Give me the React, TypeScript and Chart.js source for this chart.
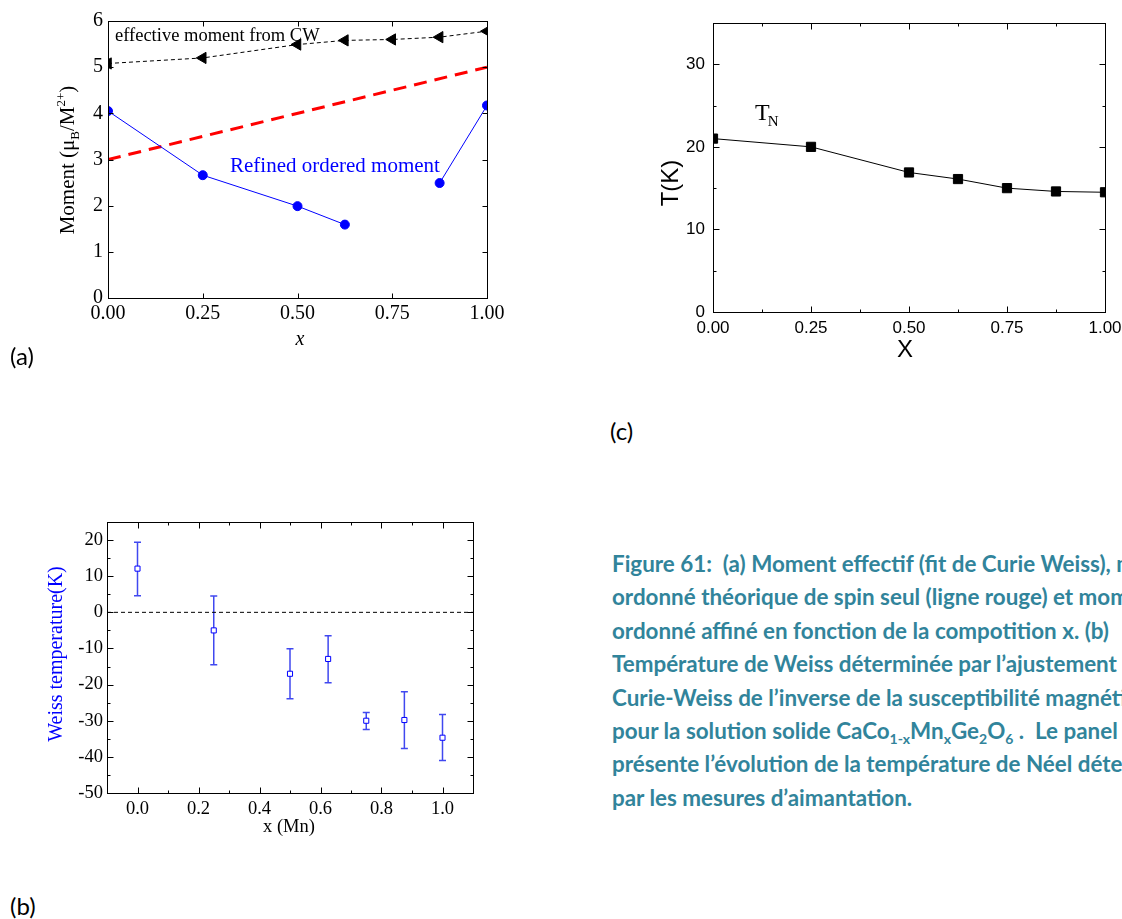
import React, { useEffect, useRef } from "react";
import { Chart, registerables } from "chart.js";
Chart.register(...registerables);

// ---------- Panel (a): moments vs x ----------
const momentX = [0, 0.25, 0.5, 0.625, 0.75, 0.875, 1.0];
const effectiveMoment = [5.08, 5.2, 5.49, 5.58, 5.6, 5.65, 5.78];
const orderedMoment = [4.05, 2.66, 1.99, 1.59, null, 2.49, 4.17];
const spinOnlyX = [0, 1];
const spinOnlyMoment = [3.0, 5.0];
const aXTicks = [0, 0.25, 0.5, 0.75, 1.0];
const aYTicks = [0, 1, 2, 3, 4, 5, 6];

// ---------- Panel (b): Weiss temperature ----------
const weissX = [0, 0.25, 0.5, 0.625, 0.75, 0.875, 1.0];
const weissT = [12.1, -5.0, -17.0, -12.9, -30.0, -29.8, -34.7];
const weissErrLow = [4.6, -14.5, -23.9, -19.5, -32.4, -37.7, -41.0];
const weissErrHigh = [19.4, 4.5, -10.1, -6.5, -27.7, -22.0, -28.3];
const bXTicks = [0, 0.2, 0.4, 0.6, 0.8, 1.0];
const bXMinor = [-0.1, 0.1, 0.3, 0.5, 0.7, 0.9, 1.1];
const bYTicks = [-50, -40, -30, -20, -10, 0, 10, 20];
const bYMinor = [-45, -35, -25, -15, -5, 5, 15, 25];

// ---------- Panel (c): Néel temperature ----------
const neelX = [0, 0.25, 0.5, 0.625, 0.75, 0.875, 1.0];
const neelT = [21.0, 20.0, 16.9, 16.1, 15.0, 14.6, 14.5];
const cXTicks = [0, 0.25, 0.5, 0.75, 1.0];
const cXMinor = [0.125, 0.375, 0.625, 0.875];
const cYTicks = [0, 10, 20, 30];
const cYMinor = [5, 15, 25];

const captionLines = [
  "Figure 61:\u00a0\u00a0(a) Moment effectif (fit de Curie Weiss), moment",
  "ordonné théorique de spin seul (ligne rouge) et moment",
  "ordonné affiné en fonction de la compotition x. (b)",
  "Température de Weiss déterminée par l’ajustement de",
  "Curie-Weiss de l’inverse de la susceptibilité magnétique",
  "SOLID",
  "présente l’évolution de la température de Néel déterminée",
  "par les mesures d’aimantation.",
];

const SERIF = "'Liberation Serif', 'Times New Roman', serif";
const SANS = "'Liberation Sans', Arial, sans-serif";

type Part = { t: string; size: number; dy?: number; dx?: number; italic?: boolean };
type LabelItem = { parts: Part[]; x: number; y: number; rotate?: number; align?: "left" | "center"; family: string; color: string };

function drawRich(ctx: CanvasRenderingContext2D, it: LabelItem) {
  ctx.save();
  ctx.translate(it.x, it.y);
  if (it.rotate) ctx.rotate(it.rotate);
  const fontOf = (p: Part) => `${p.italic ? "italic " : ""}${p.size}px ${it.family}`;
  let total = 0;
  for (const p of it.parts) {
    ctx.font = fontOf(p);
    total += ctx.measureText(p.t).width + (p.dx || 0);
  }
  let cx = it.align === "center" ? -total / 2 : 0;
  ctx.textAlign = "left";
  ctx.textBaseline = "alphabetic";
  ctx.fillStyle = it.color;
  for (const p of it.parts) {
    ctx.font = fontOf(p);
    cx += p.dx || 0;
    ctx.fillText(p.t, cx, p.dy || 0);
    cx += ctx.measureText(p.t).width;
  }
  ctx.restore();
}

const labelPlugin = {
  id: "labels",
  afterDraw(chart: any, _a: any, opts: any) {
    const ctx = chart.ctx as CanvasRenderingContext2D;
    for (const it of (opts.items || []) as LabelItem[]) drawRich(ctx, it);
  },
};

const framePlugin = {
  id: "frame",
  afterDatasetsDraw(chart: any, _a: any, opts: any) {
    const ctx = chart.ctx as CanvasRenderingContext2D;
    const a = chart.chartArea;
    const xs = chart.scales.x;
    const ys = chart.scales.y;
    ctx.save();
    ctx.strokeStyle = opts.color || "#000";
    ctx.lineWidth = opts.lineWidth || 1;
    const L = Math.round(a.left) + 0.5, R = Math.round(a.right) + 0.5;
    const T = Math.round(a.top) + 0.5, B = Math.round(a.bottom) + 0.5;
    ctx.strokeRect(L, T, R - L, B - T);
    const xt = (vals: number[], len: number) => {
      for (const v of vals) {
        const px = Math.round(xs.getPixelForValue(v)) + 0.5;
        ctx.beginPath();
        ctx.moveTo(px, B); ctx.lineTo(px, B - len);
        ctx.moveTo(px, T); ctx.lineTo(px, T + len);
        ctx.stroke();
      }
    };
    const yt = (vals: number[], len: number) => {
      for (const v of vals) {
        const py = Math.round(ys.getPixelForValue(v)) + 0.5;
        ctx.beginPath();
        ctx.moveTo(L, py); ctx.lineTo(L + len, py);
        ctx.moveTo(R, py); ctx.lineTo(R - len, py);
        ctx.stroke();
      }
    };
    xt(opts.xMajor || [], opts.majorLen || 5);
    yt(opts.yMajor || [], opts.majorLen || 5);
    xt(opts.xMinor || [], opts.minorLen || 3);
    yt(opts.yMinor || [], opts.minorLen || 3);
    ctx.restore();
  },
};

const errorBarPlugin = {
  id: "errbars",
  beforeDatasetsDraw(chart: any, _a: any, opts: any) {
    if (!opts.xs) return;
    const ctx = chart.ctx as CanvasRenderingContext2D;
    const xs = chart.scales.x, ys = chart.scales.y;
    ctx.save();
    ctx.strokeStyle = opts.color;
    ctx.lineWidth = opts.lineWidth;
    opts.xs.forEach((x: number, i: number) => {
      const px = xs.getPixelForValue(x);
      const lo = ys.getPixelForValue(opts.low[i]);
      const hi = ys.getPixelForValue(opts.high[i]);
      ctx.beginPath();
      ctx.moveTo(px, lo); ctx.lineTo(px, hi);
      ctx.moveTo(px - opts.cap, lo); ctx.lineTo(px + opts.cap, lo);
      ctx.moveTo(px - opts.cap, hi); ctx.lineTo(px + opts.cap, hi);
      ctx.stroke();
    });
    ctx.restore();
  },
};

type Area = { left: number; top: number; right: number; bottom: number };

function axes(o: {
  w: number; h: number; area: Area;
  xMin: number; xMax: number; yMin: number; yMax: number;
  xTicks: number[]; yTicks: number[];
  xFmt: (v: number) => string; yFmt: (v: number) => string;
  font: any; xPad: number; yPad: number;
}) {
  return {
    x: {
      type: "linear", min: o.xMin, max: o.xMax,
      grid: { display: false, drawTicks: false },
      border: { display: false },
      afterBuildTicks: (s: any) => { s.ticks = o.xTicks.map((v) => ({ value: v })); },
      afterFit: (s: any) => { s.height = o.h - o.area.bottom; s.paddingLeft = 0; s.paddingRight = 0; },
      ticks: { font: o.font, color: "#000", padding: o.xPad, maxRotation: 0, autoSkip: false, callback: (v: any) => o.xFmt(Number(v)) },
    },
    y: {
      type: "linear", min: o.yMin, max: o.yMax,
      grid: { display: false, drawTicks: false },
      border: { display: false },
      afterBuildTicks: (s: any) => { s.ticks = o.yTicks.map((v) => ({ value: v })); },
      afterFit: (s: any) => { s.width = o.area.left; s.paddingTop = 0; s.paddingBottom = 0; },
      ticks: { font: o.font, color: "#000", padding: o.yPad, autoSkip: false, callback: (v: any) => o.yFmt(Number(v)) },
    },
  };
}

function baseOpts(w: number, area: Area, scales: any, plugins: any) {
  return {
    responsive: false,
    animation: false,
    events: [],
    layout: { padding: { left: 0, top: area.top, right: w - area.right, bottom: 0 } },
    scales,
    plugins: { legend: { display: false }, tooltip: { enabled: false }, ...plugins },
  };
}

const pts = (xs: number[], ys: (number | null)[]) => xs.map((x, i) => ({ x, y: ys[i] }));

function configA(w: number, h: number) {
  const area = { left: 108, top: 21, right: 487, bottom: 298 };
  return {
    type: "line",
    data: {
      datasets: [
        { data: pts(momentX, effectiveMoment), borderColor: "#000", borderWidth: 1, borderDash: [4, 3], pointStyle: "triangle", pointRotation: -90, pointRadius: 6.5, pointBackgroundColor: "#000", pointBorderColor: "#000", pointBorderWidth: 1, clip: 0 },
        { data: pts(momentX, orderedMoment), borderColor: "#0000ff", borderWidth: 1, pointRadius: 4.5, pointBackgroundColor: "#0000ff", pointBorderColor: "#0000ff", spanGaps: false, clip: 0 },
        { data: pts(spinOnlyX, spinOnlyMoment), borderColor: "#ff0000", borderWidth: 3, borderDash: [13, 8], pointRadius: 0, clip: 0 },
      ],
    },
    options: baseOpts(w, area,
      axes({ w, h, area, xMin: 0, xMax: 1, yMin: 0, yMax: 6, xTicks: aXTicks, yTicks: aYTicks,
        xFmt: (v) => v.toFixed(2), yFmt: (v) => String(v), font: { family: SERIF, size: 20 }, xPad: 4, yPad: 5 }),
      {
        frame: { xMajor: aXTicks, yMajor: aYTicks, majorLen: 5 },
        labels: {
          items: [
            { parts: [{ t: "effective moment from CW", size: 18.5 }], x: 115, y: 41, family: SERIF, color: "#000" },
            { parts: [{ t: "Refined ordered moment", size: 21 }], x: 230, y: 172, family: SERIF, color: "#0000ff" },
            { parts: [{ t: "x", size: 20, italic: true }], x: 300, y: 345, align: "center", family: SERIF, color: "#000" },
            {
              parts: [
                { t: "Moment (μ", size: 21 }, { t: "B", size: 13, dy: 5 }, { t: "/M", size: 21 },
                { t: "2+", size: 13, dy: -9 }, { t: ")", size: 21 },
              ],
              x: 74, y: 160, rotate: -Math.PI / 2, align: "center", family: SERIF, color: "#000",
            },
          ],
        },
      }),
    plugins: [framePlugin, labelPlugin],
  };
}

function configB(w: number, h: number) {
  const area = { left: 107, top: 22, right: 473, bottom: 293 };
  return {
    type: "line",
    data: {
      datasets: [
        { data: pts(weissX, weissT), showLine: false, pointStyle: "rect", pointRadius: 3.6, pointBackgroundColor: "#fff", pointBorderColor: "#0000ff", pointBorderWidth: 1 },
        { data: [{ x: -0.1, y: 0 }, { x: 1.1, y: 0 }], borderColor: "#000", borderWidth: 1, borderDash: [4, 3], pointRadius: 0 },
      ],
    },
    options: baseOpts(w, area,
      axes({ w, h, area, xMin: -0.1, xMax: 1.1, yMin: -50, yMax: 25, xTicks: bXTicks, yTicks: bYTicks,
        xFmt: (v) => v.toFixed(1), yFmt: (v) => String(v), font: { family: SERIF, size: 18.5 }, xPad: 5, yPad: 4 }),
      {
        frame: { xMajor: bXTicks, yMajor: bYTicks, xMinor: bXMinor, yMinor: bYMinor, majorLen: 6, minorLen: 3 },
        errbars: { xs: weissX, low: weissErrLow, high: weissErrHigh, color: "#4048f0", lineWidth: 1.5, cap: 3.5 },
        labels: {
          items: [
            { parts: [{ t: "x (Mn)", size: 18.5 }], x: 289, y: 332, align: "center", family: SERIF, color: "#000" },
            { parts: [{ t: "Weiss temperature(K)", size: 20 }], x: 62, y: 154, rotate: -Math.PI / 2, align: "center", family: SERIF, color: "#0000ff" },
          ],
        },
      }),
    plugins: [errorBarPlugin, framePlugin, labelPlugin],
  };
}

function configC(w: number, h: number) {
  const area = { left: 93, top: 23, right: 485, bottom: 312 };
  return {
    type: "line",
    data: {
      datasets: [
        { data: pts(neelX, neelT), borderColor: "#000", borderWidth: 1, pointStyle: "rect", pointRadius: 6.5, pointBackgroundColor: "#000", pointBorderColor: "#000", clip: 0 },
      ],
    },
    options: baseOpts(w, area,
      axes({ w, h, area, xMin: 0, xMax: 1, yMin: 0, yMax: 35, xTicks: cXTicks, yTicks: cYTicks,
        xFmt: (v) => v.toFixed(2), yFmt: (v) => String(v), font: { family: SANS, size: 17 }, xPad: 6, yPad: 8 }),
      {
        frame: { xMajor: cXTicks, yMajor: cYTicks, xMinor: cXMinor, yMinor: cYMinor, majorLen: 6, minorLen: 3 },
        labels: {
          items: [
            { parts: [{ t: "X", size: 24 }], x: 285, y: 357, align: "center", family: SANS, color: "#000" },
            { parts: [{ t: "T(K)", size: 24 }], x: 58, y: 183, rotate: -Math.PI / 2, align: "center", family: SANS, color: "#000" },
            { parts: [{ t: "T", size: 24 }, { t: "N", size: 15, dy: 6, dx: -2 }], x: 135, y: 120, family: SERIF, color: "#000" },
          ],
        },
      }),
    plugins: [framePlugin, labelPlugin],
  };
}

function Panel({ left, top, width, height, make }: { left: number; top: number; width: number; height: number; make: (w: number, h: number) => any }) {
  const ref = useRef<HTMLCanvasElement>(null);
  useEffect(() => {
    const chart = new Chart(ref.current as HTMLCanvasElement, make(width, height));
    return () => chart.destroy();
  }, []);
  return (
    <div style={{ position: "absolute", left, top, width, height }}>
      <canvas ref={ref} width={width} height={height} style={{ width, height, display: "block" }} />
    </div>
  );
}

const capColor = "#31849B";
const capFont = "Lato, 'Open Sans', sans-serif";

export default function App() {
  const panelLabel = (t: string, left: number, top: number) => (
    <div style={{ position: "absolute", left, top, fontFamily: capFont, fontSize: 24, lineHeight: "30px", color: "#000" }}>{t}</div>
  );
  return (
    <div style={{ position: "absolute", left: 0, top: 0, width: 1122, height: 919, overflow: "hidden", background: "#fff" }}>
      <Panel left={0} top={0} width={520} height={360} make={configA} />
      <Panel left={620} top={0} width={502} height={380} make={configC} />
      <Panel left={0} top={500} width={500} height={360} make={configB} />
      {panelLabel("(a)", 10, 341)}
      {panelLabel("(c)", 610, 416)}
      {panelLabel("(b)", 10, 891)}
      <div style={{ position: "absolute", left: 612, top: 547, width: 510, overflow: "hidden", fontFamily: capFont, fontWeight: 700, fontSize: 22.4, color: capColor, whiteSpace: "nowrap" }}>
        {captionLines.map((l, i) => (
          <div key={i} style={{ height: 33.4, lineHeight: "33.4px" }}>
            {l === "SOLID" ? (
              <span>pour la solution solide CaCo<sub style={{ fontSize: 14 }}>1-x</sub>Mn<sub style={{ fontSize: 14 }}>x</sub>Ge<sub style={{ fontSize: 14 }}>2</sub>O<sub style={{ fontSize: 14 }}>6</sub> .&nbsp; Le panel (c)</span>
            ) : l}
          </div>
        ))}
      </div>
    </div>
  );
}
